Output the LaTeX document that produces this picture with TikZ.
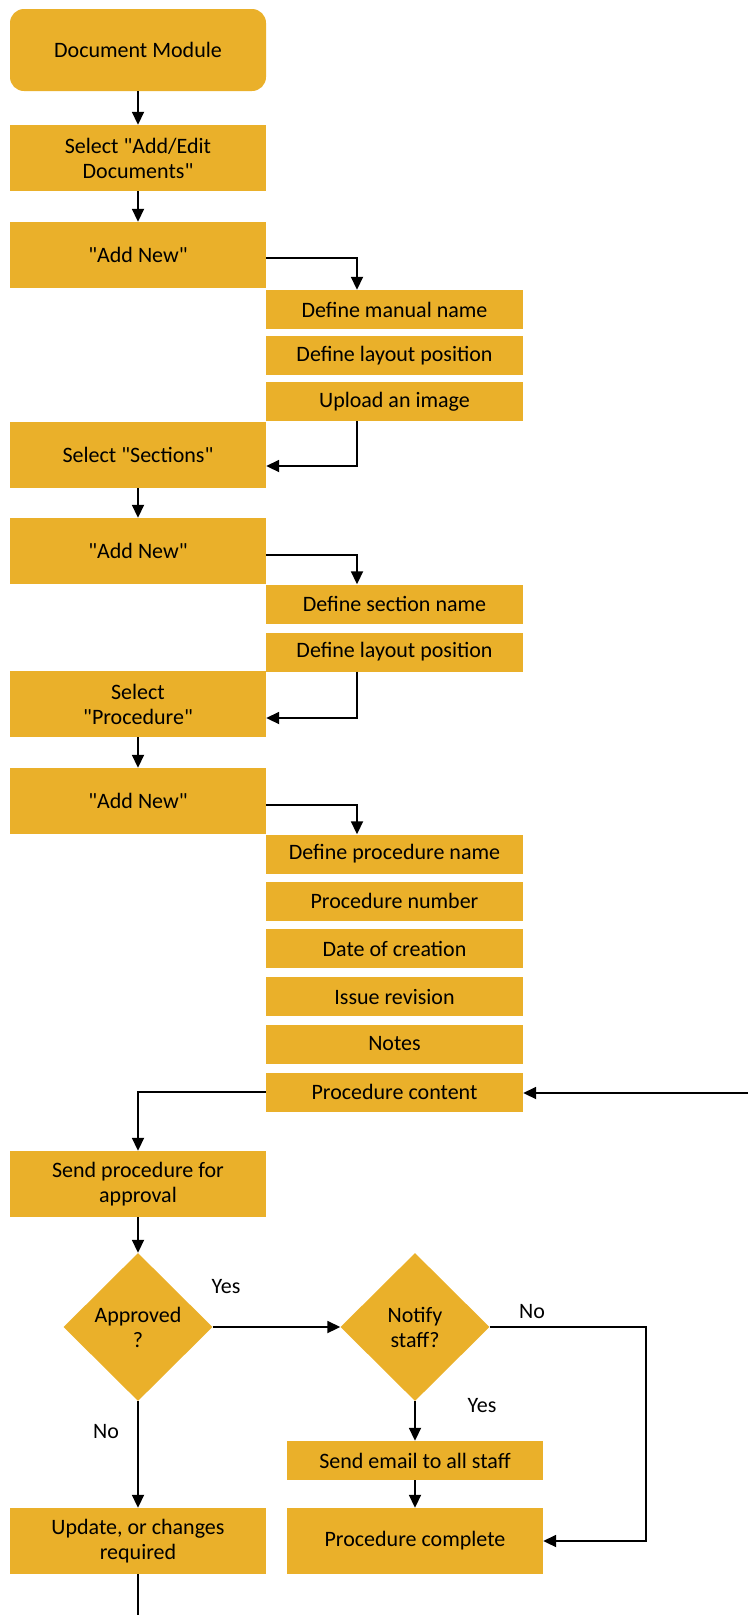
\documentclass[tikz,border=0pt]{standalone}
\usepackage{fontspec}
\setmainfont{Carlito}
\usetikzlibrary{shapes.geometric,arrows.meta}
\definecolor{gold}{RGB}{234,176,42}
\newcommand{\qd}{\textquotedbl}
\begin{document}
\begin{tikzpicture}[x=1pt,y=-1pt,
  txt/.style={font=\fontsize{22}{25}\selectfont, text=black},
  box/.style={txt, fill=gold, draw=none, minimum width=256pt, minimum height=66pt, inner sep=0pt, align=center},
  sub/.style={box, minimum width=257pt, minimum height=39pt},
  dia/.style={txt, diamond, fill=gold, draw=none, minimum width=149pt, minimum height=148pt, inner sep=0pt, align=center},
  ln/.style={draw=black, line width=1.8pt},
  arr/.style={ln, -{Triangle[length=13pt,width=12pt]}}]
\useasboundingbox (0,0) rectangle (748,1615);
% main column
\node[box, rounded corners=14pt, minimum height=82pt] (doc) at (138,50) {Document Module};
\node[box] (sel) at (138,158) {Select \qd Add/Edit\\Documents\qd};
\node[box] (add1) at (138,255) {\qd Add New\qd};
\node[sub] (dmn) at (394.5,309.5) {Define manual name};
\node[sub] (dlp) at (394.5,355.5) {Define layout position};
\node[sub] (upl) at (394.5,401.5) {Upload an image};
\node[box] (sec) at (138,455) {Select \qd Sections\qd};
\node[box] (add2) at (138,551) {\qd Add New\qd};
\node[sub] (dsn) at (394.5,604) {Define section name};
\node[sub] (dlp2) at (394.5,652) {Define layout position};
\node[box] (proc) at (138,704) {Select\\\qd Procedure\qd};
\node[box] (add3) at (138,801) {\qd Add New\qd};
\node[sub] (dpn) at (394.5,854) {Define procedure name};
\node[sub] (pnum) at (394.5,901) {Procedure number};
\node[sub] (date) at (394.5,948.5) {Date of creation};
\node[sub] (iss) at (394.5,996.5) {Issue revision};
\node[sub] (notes) at (394.5,1044) {Notes};
\node[sub] (pc) at (394.5,1092) {Procedure content};
\node[box] (send) at (138,1184) {Send procedure for\\approval};
\node[dia] (appr) at (138,1327) {Approved\\?};
\node[dia] (notif) at (415,1327) {Notify\\staff?};
\node[sub, minimum width=256pt] (email) at (415,1460.5) {Send email to all staff};
\node[box] (comp) at (415,1541) {Procedure complete};
\node[box] (upd) at (138,1541) {Update, or changes\\required};
% labels
\node[txt] (y1) at (226,1287) {Yes};
\node[txt] (n1) at (532,1311) {No};
\node[txt] (y2) at (482,1406) {Yes};
\node[txt] (n2) at (106,1431) {No};
% coordinates
\coordinate (edge) at (748,1093);
\coordinate (bot) at (138,1615);
\coordinate (rt) at (646,1327);
% connectors
\draw[arr] (doc.south) -- (sel.north);
\draw[arr] (sel.south) -- (add1.north);
\draw[arr] ([yshift=-3pt]add1.east) -| ([xshift=-37.5pt]dmn.north);
\draw[arr] ([xshift=-37.5pt]upl.south) |- ([yshift=-11pt]sec.east);
\draw[arr] (sec.south) -- (add2.north);
\draw[arr] ([yshift=-4pt]add2.east) -| ([xshift=-37.5pt]dsn.north);
\draw[arr] ([xshift=-37.5pt]dlp2.south) |- ([yshift=-14pt]proc.east);
\draw[arr] (proc.south) -- (add3.north);
\draw[arr] ([yshift=-4pt]add3.east) -| ([xshift=-37.5pt]dpn.north);
\draw[arr] (pc.west) -| (send.north);
\draw[arr] (edge) -- (pc.east |- edge);
\draw[arr] (send.south) -- (appr.north);
\draw[arr] (appr.east) -- (notif.west);
\draw[arr] (notif.east) -- (rt) |- (comp.east);
\draw[arr] (notif.south) -- (email.north);
\draw[arr] (email.south) -- (comp.north);
\draw[arr] (appr.south) -- (upd.north);
\draw[ln] (upd.south) -- (bot);
\end{tikzpicture}
\end{document}
